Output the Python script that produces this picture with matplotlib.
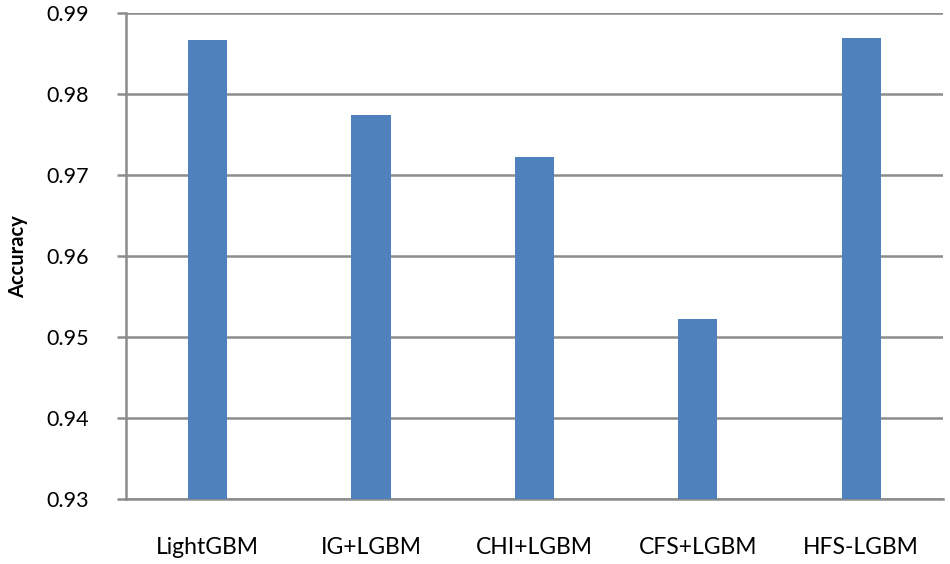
import matplotlib
matplotlib.use("Agg")
import matplotlib.pyplot as plt
import numpy as np

plt.rcParams['font.family'] = ['Lato', 'DejaVu Sans']

methods = ["LightGBM", "IG+LGBM", "CHI+LGBM", "CFS+LGBM", "HFS-LGBM"]
accuracy = [0.9867, 0.9775, 0.9723, 0.9523, 0.9870]
yticks = [0.93, 0.94, 0.95, 0.96, 0.97, 0.98, 0.99]

grid_col = "#8c8c8c"
bar_col = "#4f81bd"

fig = plt.figure(figsize=(9.5, 5.64), dpi=100)
ax = fig.add_axes([0.1326, 0.1152, 0.86, 0.8612])

x = np.arange(len(methods))
ax.bar(x, accuracy, width=0.24, color=bar_col, zorder=3)

ax.set_xlim(-0.5, len(methods) - 0.5)
ax.set_ylim(0.93, 0.99)
ax.set_yticks(yticks)
ax.set_yticklabels([f"{v:.2f}" for v in yticks])
ax.set_xticks(x)
ax.set_xticklabels(methods)

ax.yaxis.grid(True, color=grid_col, linewidth=1.8, zorder=0)
for s in ["top", "right"]:
    ax.spines[s].set_visible(False)
for s in ["left", "bottom"]:
    ax.spines[s].set_color(grid_col)
    ax.spines[s].set_linewidth(1.8)

ax.tick_params(axis='y', length=6.5, width=1.8, color=grid_col, pad=20,
               labelsize=15.5, labelcolor="#000000")
ax.tick_params(axis='x', length=0, pad=27, labelsize=16.5, labelcolor="#000000")

ax.set_ylabel("Accuracy", fontsize=14.5, fontweight='bold', labelpad=13)

fig.savefig("out.png", dpi=100)
